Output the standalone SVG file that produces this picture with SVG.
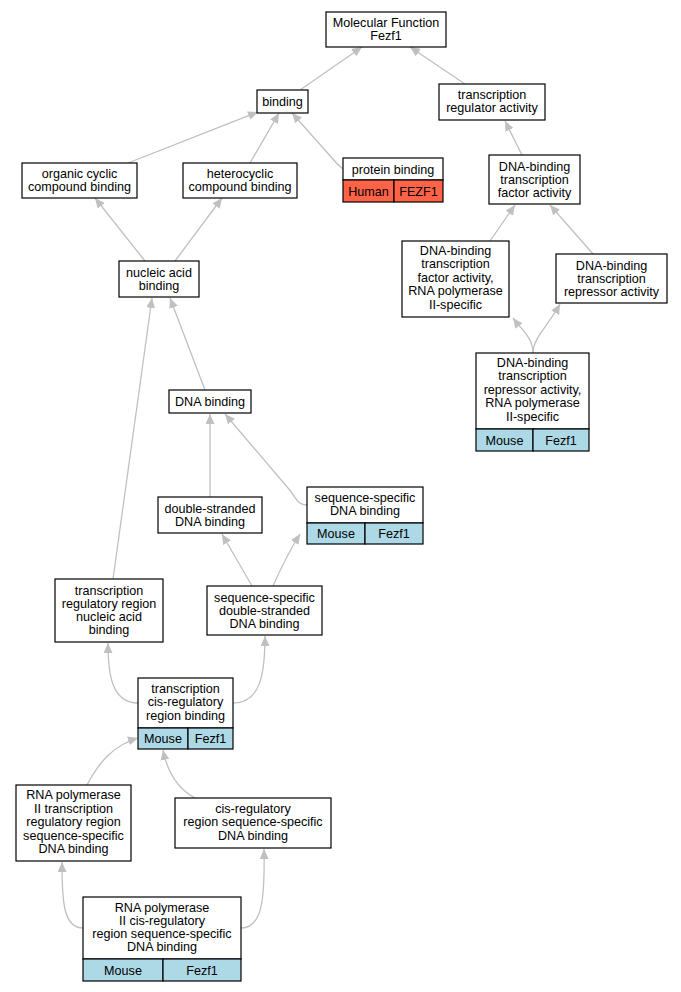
<svg xmlns="http://www.w3.org/2000/svg" width="681" height="992" viewBox="0 0 681 992">
<style>
.b{fill:#fff;stroke:#000;stroke-width:1.2}
.m{fill:#add8e6;stroke:#000;stroke-width:1.2}
.h{fill:#ff6347;stroke:#000;stroke-width:1.2}
text{font-family:"Liberation Sans",Arial,sans-serif;font-size:12.6px;text-anchor:middle;fill:#000}
.e path{fill:none;stroke:#c0c0c0;stroke-width:1.3;marker-end:url(#ah)}
</style>
<defs>
<marker id="ah" markerUnits="userSpaceOnUse" markerWidth="11" markerHeight="10" refX="10" refY="4.5" orient="auto">
<path d="M0,0 L10,4.5 L0,9 z" fill="#c0c0c0"/>
</marker>
</defs>
<rect width="681" height="992" fill="#fff"/>
<g class="e" id="connectors">
<path d="M300,90 L362,47"/>
<path d="M465,84 L410,47"/>
<path d="M128,163 L258,112"/>
<path d="M250,163 L279,113"/>
<path d="M343,169 C338,165 335,162 332,158 L292,113"/>
<path d="M522,155 L505,121"/>
<path d="M145,261 L95,198"/>
<path d="M175,261 L222,198"/>
<path d="M490,241 L515,205"/>
<path d="M593,254 L550,205"/>
<path d="M533,353 C533,338 522,330 513,318"/>
<path d="M533,353 C533,338 548,326 560,304"/>
<path d="M205,390 L170,298"/>
<path d="M113,579 L152,298"/>
<path d="M210,497 L210,414"/>
<path d="M307,505 C297,505 296,497 288,488 L225,414"/>
<path d="M252,586 L222,534"/>
<path d="M273,586 C280,570 290,550 300,534"/>
<path d="M138,703 C112,703 108,675 108,643"/>
<path d="M233,703 C260,703 265,675 265,636"/>
<path d="M87,785 C100,760 115,745 138,738"/>
<path d="M195,798 C180,790 168,775 163,750"/>
<path d="M83,928 C63,928 62,900 62,862"/>
<path d="M241,928 C262,928 265,900 264,849"/>
</g>
<g id="n_mf"><rect class="b" x="326" y="12" width="120" height="35"/><text x="386" y="26.5">Molecular Function</text><text x="386" y="39.8">Fezf1</text></g>
<g id="n_binding"><rect class="b" x="257" y="90" width="51" height="23"/><text x="282.5" y="106">binding</text></g>
<g id="n_tra"><rect class="b" x="439" y="84" width="106" height="36"/><text x="492" y="99">transcription</text><text x="492" y="112.3">regulator activity</text></g>
<g id="n_protein"><rect class="b" x="343" y="158" width="100" height="22"/><rect class="h" x="343" y="180" width="51" height="22"/><rect class="h" x="394" y="180" width="49" height="22"/><text x="393" y="173.5">protein binding</text><text x="368.5" y="195.5">Human</text><text x="418.5" y="195.5">FEZF1</text></g>
<g id="n_dbtfa"><rect class="b" x="489" y="155" width="91" height="49"/><text x="534.5" y="170.5">DNA-binding</text><text x="534.5" y="183.8">transcription</text><text x="534.5" y="197.1">factor activity</text></g>
<g id="n_occb"><rect class="b" x="22" y="163" width="115" height="35"/><text x="79.5" y="178">organic cyclic</text><text x="79.5" y="191.3">compound binding</text></g>
<g id="n_hcb"><rect class="b" x="183" y="163" width="114" height="35"/><text x="240" y="178">heterocyclic</text><text x="240" y="191.3">compound binding</text></g>
<g id="n_nab"><rect class="b" x="119" y="261" width="80" height="36"/><text x="159" y="276.5">nucleic acid</text><text x="159" y="289.8">binding</text></g>
<g id="n_tfp2"><rect class="b" x="402" y="241" width="107" height="76"/><text x="455.5" y="254.5">DNA-binding</text><text x="455.5" y="268">transcription</text><text x="455.5" y="281.5">factor activity,</text><text x="455.5" y="295">RNA polymerase</text><text x="455.5" y="308.5">II-specific</text></g>
<g id="n_rep"><rect class="b" x="556" y="254" width="111" height="49"/><text x="611.5" y="269.5">DNA-binding</text><text x="611.5" y="282.8">transcription</text><text x="611.5" y="296.1">repressor activity</text></g>
<g id="n_rep2"><rect class="b" x="476" y="353" width="113" height="76"/><rect class="m" x="476" y="429" width="57" height="22"/><rect class="m" x="533" y="429" width="56" height="22"/><text x="532.5" y="366.5">DNA-binding</text><text x="532.5" y="380">transcription</text><text x="532.5" y="393.5">repressor activity,</text><text x="532.5" y="407">RNA polymerase</text><text x="532.5" y="420.5">II-specific</text><text x="504.5" y="444.5">Mouse</text><text x="561" y="444.5">Fezf1</text></g>
<g id="n_dnab"><rect class="b" x="169" y="390" width="82" height="23"/><text x="210" y="406">DNA binding</text></g>
<g id="n_ds"><rect class="b" x="158" y="497" width="104" height="36"/><text x="210" y="512.5">double-stranded</text><text x="210" y="525.8">DNA binding</text></g>
<g id="n_ssdb"><rect class="b" x="307" y="487" width="116" height="36"/><rect class="m" x="307" y="523" width="58" height="21"/><rect class="m" x="365" y="523" width="58" height="21"/><text x="365" y="501.5">sequence-specific</text><text x="365" y="514.8">DNA binding</text><text x="336" y="538">Mouse</text><text x="394" y="538">Fezf1</text></g>
<g id="n_ssds"><rect class="b" x="207" y="586" width="115" height="49"/><text x="264.5" y="601.5">sequence-specific</text><text x="264.5" y="614.8">double-stranded</text><text x="264.5" y="628.1">DNA binding</text></g>
<g id="n_trrnab"><rect class="b" x="55" y="579" width="108" height="63"/><text x="109" y="594.5">transcription</text><text x="109" y="607.8">regulatory region</text><text x="109" y="621.1">nucleic acid</text><text x="109" y="634.4">binding</text></g>
<g id="n_tcrb"><rect class="b" x="138" y="678" width="95" height="50"/><rect class="m" x="138" y="728" width="50" height="21"/><rect class="m" x="188" y="728" width="45" height="21"/><text x="185.5" y="693">transcription</text><text x="185.5" y="706.3">cis-regulatory</text><text x="185.5" y="719.6">region binding</text><text x="163" y="742.5">Mouse</text><text x="210.5" y="742.5">Fezf1</text></g>
<g id="n_rp2trr"><rect class="b" x="16" y="785" width="115" height="76"/><text x="73.5" y="799">RNA polymerase</text><text x="73.5" y="812.5">II transcription</text><text x="73.5" y="826">regulatory region</text><text x="73.5" y="839.5">sequence-specific</text><text x="73.5" y="853">DNA binding</text></g>
<g id="n_crss"><rect class="b" x="175" y="798" width="156" height="50"/><text x="253" y="813">cis-regulatory</text><text x="253" y="826.3">region sequence-specific</text><text x="253" y="839.6">DNA binding</text></g>
<g id="n_rp2cis"><rect class="b" x="83" y="897" width="158" height="62"/><rect class="m" x="83" y="959" width="80" height="22"/><rect class="m" x="163" y="959" width="78" height="22"/><text x="162" y="911.5">RNA polymerase</text><text x="162" y="924.8">II cis-regulatory</text><text x="162" y="938.1">region sequence-specific</text><text x="162" y="951.4">DNA binding</text><text x="123" y="974.5">Mouse</text><text x="202" y="974.5">Fezf1</text></g>
</svg>
